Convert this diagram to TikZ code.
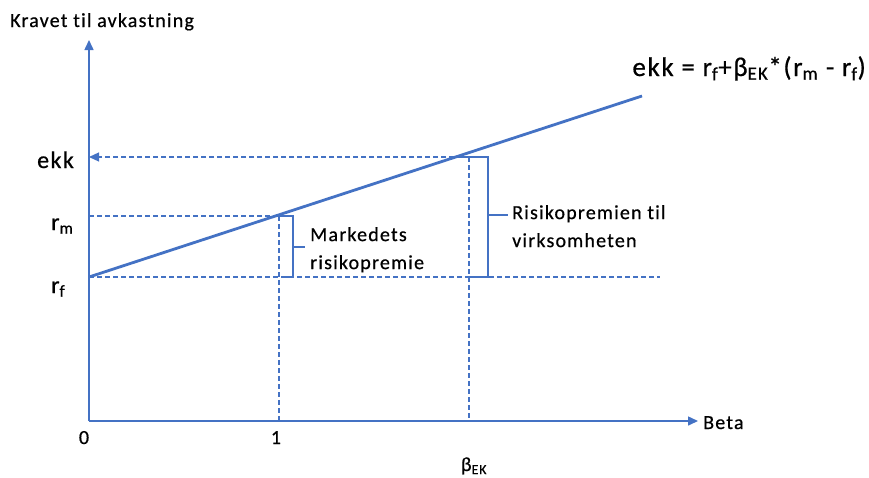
\documentclass[tikz,border=0pt]{standalone}
\usepackage{fontspec}
\setmainfont{Carlito}
\newfontfamily\wide[LetterSpace=6, Ligatures=NoCommon, FakeBold=0.6]{Carlito}
\usetikzlibrary{arrows.meta}
\definecolor{lineblue}{RGB}{68,114,196}
\begin{document}
\begin{tikzpicture}[x=1pt,y=-1pt,
  axis/.style={draw=lineblue, line width=1.5pt},
  guide/.style={draw=lineblue, line width=1.2pt, dash pattern=on 5pt off 3pt},
  sml/.style={draw=lineblue, line width=2.8pt},
  bracket/.style={draw=lineblue, line width=1.5pt},
  tip/.style={-{Triangle[length=10pt,width=9pt]}},
  txt/.style={inner sep=0pt, font=\wide\fontsize{20}{28}\selectfont},
  big/.style={inner sep=0pt, font=\wide\fontsize{24}{28}\selectfont},
  eqn/.style={inner sep=0pt, font=\wide\fontsize{27}{30}\selectfont}]
\useasboundingbox (0,0) rectangle (869,477);

% axes
\coordinate (O) at (89,421);
\coordinate (ytop) at (89,40);
\coordinate (xend) at (698,421);
\draw[axis, tip] (O) -- (ytop);
\draw[axis, tip] (O) -- (xend);

% levels on the return axis
\coordinate (rf) at (89,277);
\coordinate (rm) at (89,216);
\coordinate (ekk) at (89,157);
\coordinate (rfend) at (660,277);

% points on the security market line
\coordinate (m) at (279,216);
\coordinate (v) at (462,157);
\coordinate (slend) at (642,96);
\coordinate (mfoot) at (279,421);
\coordinate (vtop) at (469,157);
\coordinate (vfoot) at (469,421);

% guide lines
\draw[guide] (rf) -- (rfend);
\draw[guide] (rm) -- (m);
\draw[guide] (m) -- (mfoot);
\draw[guide] (vtop) -- (vfoot);
\draw[guide, -{Triangle[length=10pt,width=9pt]}] (v) -- (ekk);

% security market line
\draw[sml] (rf) -- (slend);

% brackets
\coordinate (b1t) at (293,216);
\coordinate (b1b) at (293,277);
\coordinate (b1m) at (293,247);
\coordinate (b1tip) at (305,247);
\draw[bracket] (m) -- (b1t) -- (b1b) -- (283,277);
\draw[bracket] (b1m) -- (b1tip);

\coordinate (b2t) at (488,157);
\coordinate (b2b) at (488,277);
\coordinate (b2m) at (488,215);
\coordinate (b2tip) at (508,215);
\draw[bracket] (v) -- (b2t) -- (b2b) -- (470,277);
\draw[bracket] (b2m) -- (b2tip);

% labels
\node[txt, anchor=base west] (title) at (10,27) {Kravet til avkastning};
\node[txt, anchor=base west] (beta) at (703,429) {Beta};
\node[txt, anchor=base] (zero) at (84,444) {0};
\node[txt, anchor=base] (one) at (276,444) {1};
\node[txt, anchor=base] (bek) at (474,471) {β\textsubscript{EK}};
\node[big, anchor=base east] (lekk) at (74,168) {ekk};
\node[big, anchor=base west] (lrm) at (51,230) {r\textsubscript{m}};
\node[big, anchor=base west] (lrf) at (51,293) {r\textsubscript{f}};
\node[txt, anchor=north west, align=left] (mrp) at (310,227) {Markedets\\risikopremie};
\node[txt, anchor=north west, align=left] (vrp) at (512,205) {Risikopremien til\\virksomheten};
\node[eqn, anchor=base east] (eq) at (866,76)
  {ekk = r\textsubscript{f}+β\textsubscript{EK}*(r\textsubscript{m} - r\textsubscript{f})};
\end{tikzpicture}
\end{document}
